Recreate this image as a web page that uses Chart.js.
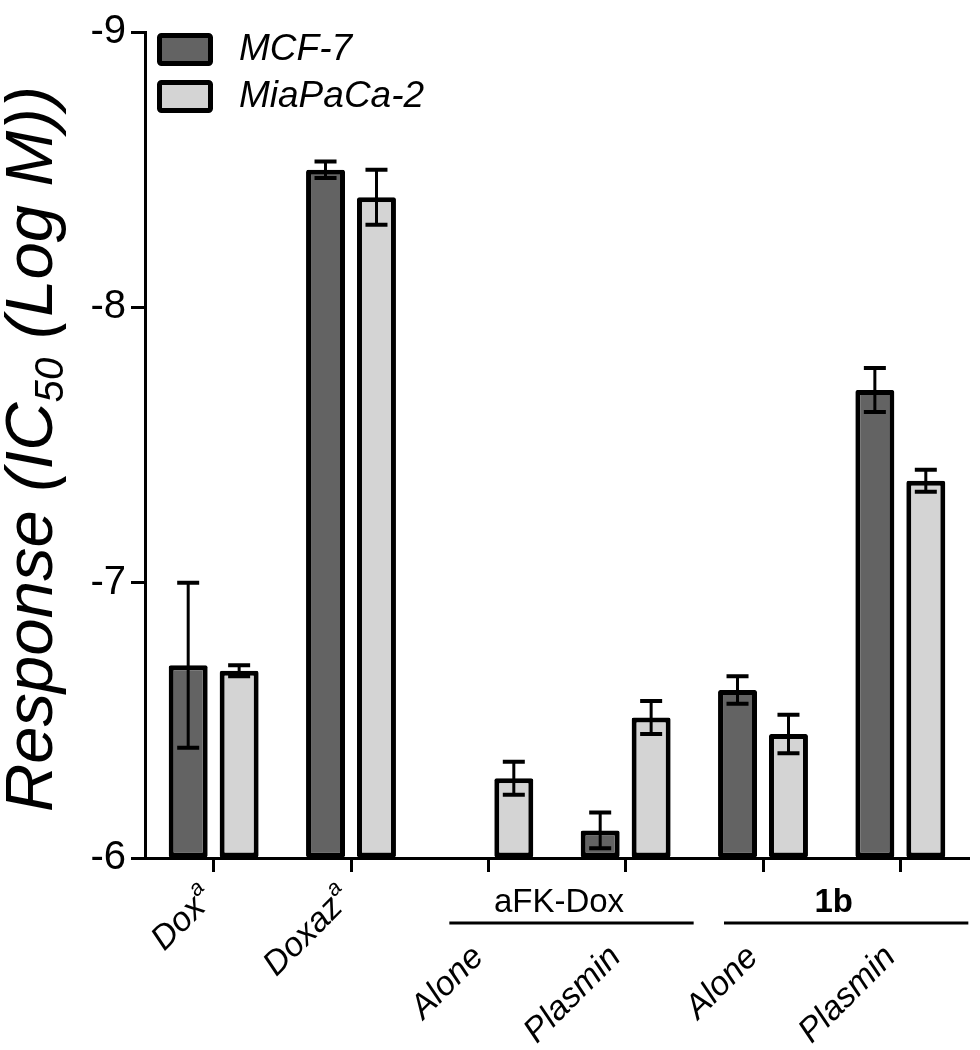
<!DOCTYPE html>
<html>
<head>
<meta charset="utf-8">
<script src="https://cdn.jsdelivr.net/npm/chart.js@4.4.1/dist/chart.umd.min.js"></script>
<style>
  html, body { margin: 0; padding: 0; background: #fff; }
  #wrap { width: 980px; height: 1050px; }
</style>
</head>
<body>
<div id="wrap"><canvas id="ic50_chart" width="980" height="1050"></canvas></div>
<script>
// categories (x axis)
const categories = ['Dox', 'Doxaz', 'aFK-Dox Alone', 'aFK-Dox Plasmin', '1b Alone', '1b Plasmin'];
const tickText = ['Dox', 'Doxaz', 'Alone', 'Plasmin', 'Alone', 'Plasmin'];
const tickSup = ['a', 'a', '', '', '', ''];
const groupNames = ['aFK-Dox', '1b'];
const groupStart = [2, 4];
const groupEnd = [3, 5];

// log IC50 values
const mcf7 = [-6.70, -8.50, null, -6.10, -6.61, -7.70];
const mcf7Err = [0.30, 0.03, 0, 0.065, 0.05, 0.08];
const miapaca = [-6.68, -8.40, -6.29, -6.51, -6.45, -7.37];
const miapacaErr = [0.02, 0.10, 0.06, 0.06, 0.07, 0.04];

const yTicks = [-9, -8, -7, -6];

const FONT = "'Liberation Sans', Arial, sans-serif";

// error bars on top of the bars
const errorBars = {
    id: 'errorBars',
    afterDatasetsDraw(chart) {
        const ctx = chart.ctx;
        const y = chart.scales.y;
        chart.data.datasets.forEach(function(ds, i) {
            const meta = chart.getDatasetMeta(i);
            ds.data.forEach(function(v, j) {
                const e = ds.errors[j];
                if (v === null || !e) return;
                const x = meta.data[j].x;
                const top = y.getPixelForValue(v - e);
                const bot = y.getPixelForValue(v + e);
                ctx.save();
                ctx.strokeStyle = '#000';
                ctx.lineWidth = 3;
                ctx.beginPath();
                ctx.moveTo(x, top); ctx.lineTo(x, bot);
                ctx.stroke();
                ctx.lineWidth = 4;
                ctx.beginPath();
                ctx.moveTo(x - 11, top); ctx.lineTo(x + 11, top);
                ctx.moveTo(x - 11, bot); ctx.lineTo(x + 11, bot);
                ctx.stroke();
                ctx.restore();
            });
        });
    }
};

// legend boxes in the top left corner
const boxLegend = {
    id: 'boxLegend',
    afterDraw(chart) {
        const ctx = chart.ctx;
        const left = chart.chartArea.left + 12;
        let top = chart.chartArea.top + 1;
        chart.data.datasets.forEach(function(ds) {
            ctx.save();
            ctx.fillStyle = ds.backgroundColor;
            ctx.strokeStyle = '#000';
            ctx.lineWidth = 5;
            ctx.beginPath();
            ctx.roundRect(left + 2.5, top + 2.5, 51, 28, 2);
            ctx.fill();
            ctx.stroke();
            ctx.fillStyle = '#000';
            ctx.font = 'italic 37px ' + FONT;
            ctx.textBaseline = 'middle';
            ctx.fillText(ds.label, left + 82, top + 17);
            ctx.restore();
            top += 47;
        });
    }
};

// y title with a subscript, and the x labels (rotated, superscripts, group lines)
const axisText = {
    id: 'axisText',
    afterDraw(chart) {
        const ctx = chart.ctx;
        const area = chart.chartArea;
        const xs = chart.scales.x;

        // y title
        const F = 67;
        const parts = [
            { t: 'Response (IC', size: F, dy: 0 },
            { t: '50', size: F * 0.6, dy: F * 0.16 },
            { t: ' (Log M))', size: F, dy: 0 }
        ];
        ctx.save();
        let total = 0;
        parts.forEach(function(p) {
            ctx.font = 'italic ' + p.size + 'px ' + FONT;
            p.w = ctx.measureText(p.t).width;
            total += p.w;
        });
        ctx.translate(52, (area.top + area.bottom) / 2 + 4);
        ctx.rotate(-Math.PI / 2);
        ctx.fillStyle = '#000';
        ctx.textBaseline = 'alphabetic';
        let px = -total / 2;
        parts.forEach(function(p) {
            ctx.font = 'italic ' + p.size + 'px ' + FONT;
            ctx.fillText(p.t, px, p.dy);
            px += p.w;
        });
        ctx.restore();

        // rotated category labels
        const ang = Math.PI / 4;
        tickText.forEach(function(t, i) {
            const x = xs.getPixelForValue(i);
            const inGroup = groupStart.some(function(s, g) { return i >= s && i <= groupEnd[g]; });
            const ax = inGroup ? x - 10 : x - 4;
            const ay = inGroup ? 952 : 893;
            ctx.save();
            ctx.translate(ax, ay);
            ctx.rotate(-ang);
            ctx.fillStyle = '#000';
            ctx.textBaseline = 'middle';
            let supW = 0;
            if (tickSup[i]) {
                ctx.font = 'italic 22px ' + FONT;
                supW = ctx.measureText(tickSup[i]).width + 1;
                ctx.textAlign = 'right';
                ctx.fillText(tickSup[i], 0, -12);
            }
            ctx.font = 'italic 34px ' + FONT;
            ctx.textAlign = 'right';
            ctx.fillText(t, -supW, 0);
            ctx.restore();
        });

        // group headers with a line underneath
        groupNames.forEach(function(name, g) {
            const xa = xs.getPixelForValue(groupStart[g]);
            const xb = xs.getPixelForValue(groupEnd[g]);
            const x0 = xa - 39;
            const x1 = Math.min(xb + 68, chart.width - 5);
            ctx.save();
            ctx.strokeStyle = '#000';
            ctx.lineWidth = 3;
            ctx.beginPath();
            ctx.moveTo(x0, 923); ctx.lineTo(x1, 923);
            ctx.stroke();
            ctx.fillStyle = '#000';
            ctx.font = (g === 1 ? 'bold ' : '') + '33px ' + FONT;
            ctx.textAlign = 'center';
            ctx.textBaseline = 'alphabetic';
            ctx.fillText(name, (xa + xb) / 2 + 2, 912);
            ctx.restore();
        });
    }
};

const ctx = document.getElementById('ic50_chart');
window.ic50_chart = new Chart(ctx, {
    type: 'bar',
    data: {
        labels: categories,
        datasets: [
            {
                label: 'MCF-7',
                data: mcf7,
                errors: mcf7Err,
                base: -6,
                backgroundColor: '#636363',
                borderColor: '#000',
                borderWidth: 5,
                borderSkipped: false,
                borderRadius: 2
            },
            {
                label: 'MiaPaCa-2',
                data: miapaca,
                errors: miapacaErr,
                base: -6,
                backgroundColor: '#d4d4d4',
                borderColor: '#000',
                borderWidth: 5,
                borderSkipped: false,
                borderRadius: 2
            }
        ]
    },
    options: {
        responsive: false,
        animation: false,
        devicePixelRatio: 1,
        categoryPercentage: 0.742,
        barPercentage: 0.765,
        layout: { padding: { top: 32, right: 11, left: 0, bottom: 0 } },
        plugins: {
            legend: { display: false },
            tooltip: { enabled: false }
        },
        scales: {
            x: {
                grid: {
                    offset: false,
                    drawOnChartArea: false,
                    drawTicks: true,
                    tickLength: 14,
                    tickWidth: 3,
                    tickColor: '#000'
                },
                border: { display: true, color: '#000', width: 3 },
                ticks: { display: false },
                afterFit: function(scale) { scale.height = 192; }
            },
            y: {
                reverse: true,
                min: -9,
                max: -6,
                afterBuildTicks: function(scale) {
                    scale.ticks = yTicks.map(function(v) { return { value: v }; });
                },
                grid: {
                    drawOnChartArea: false,
                    drawTicks: true,
                    tickLength: 14,
                    tickWidth: 3,
                    tickColor: '#000'
                },
                border: { display: true, color: '#000', width: 3 },
                ticks: {
                    color: '#000',
                    padding: 5,
                    font: { family: FONT, size: 40 },
                    callback: function(v) { return String(v); }
                },
                afterFit: function(scale) { scale.width = 145; }
            }
        }
    },
    plugins: [errorBars, boxLegend, axisText]
});
</script>
</body>
</html>
